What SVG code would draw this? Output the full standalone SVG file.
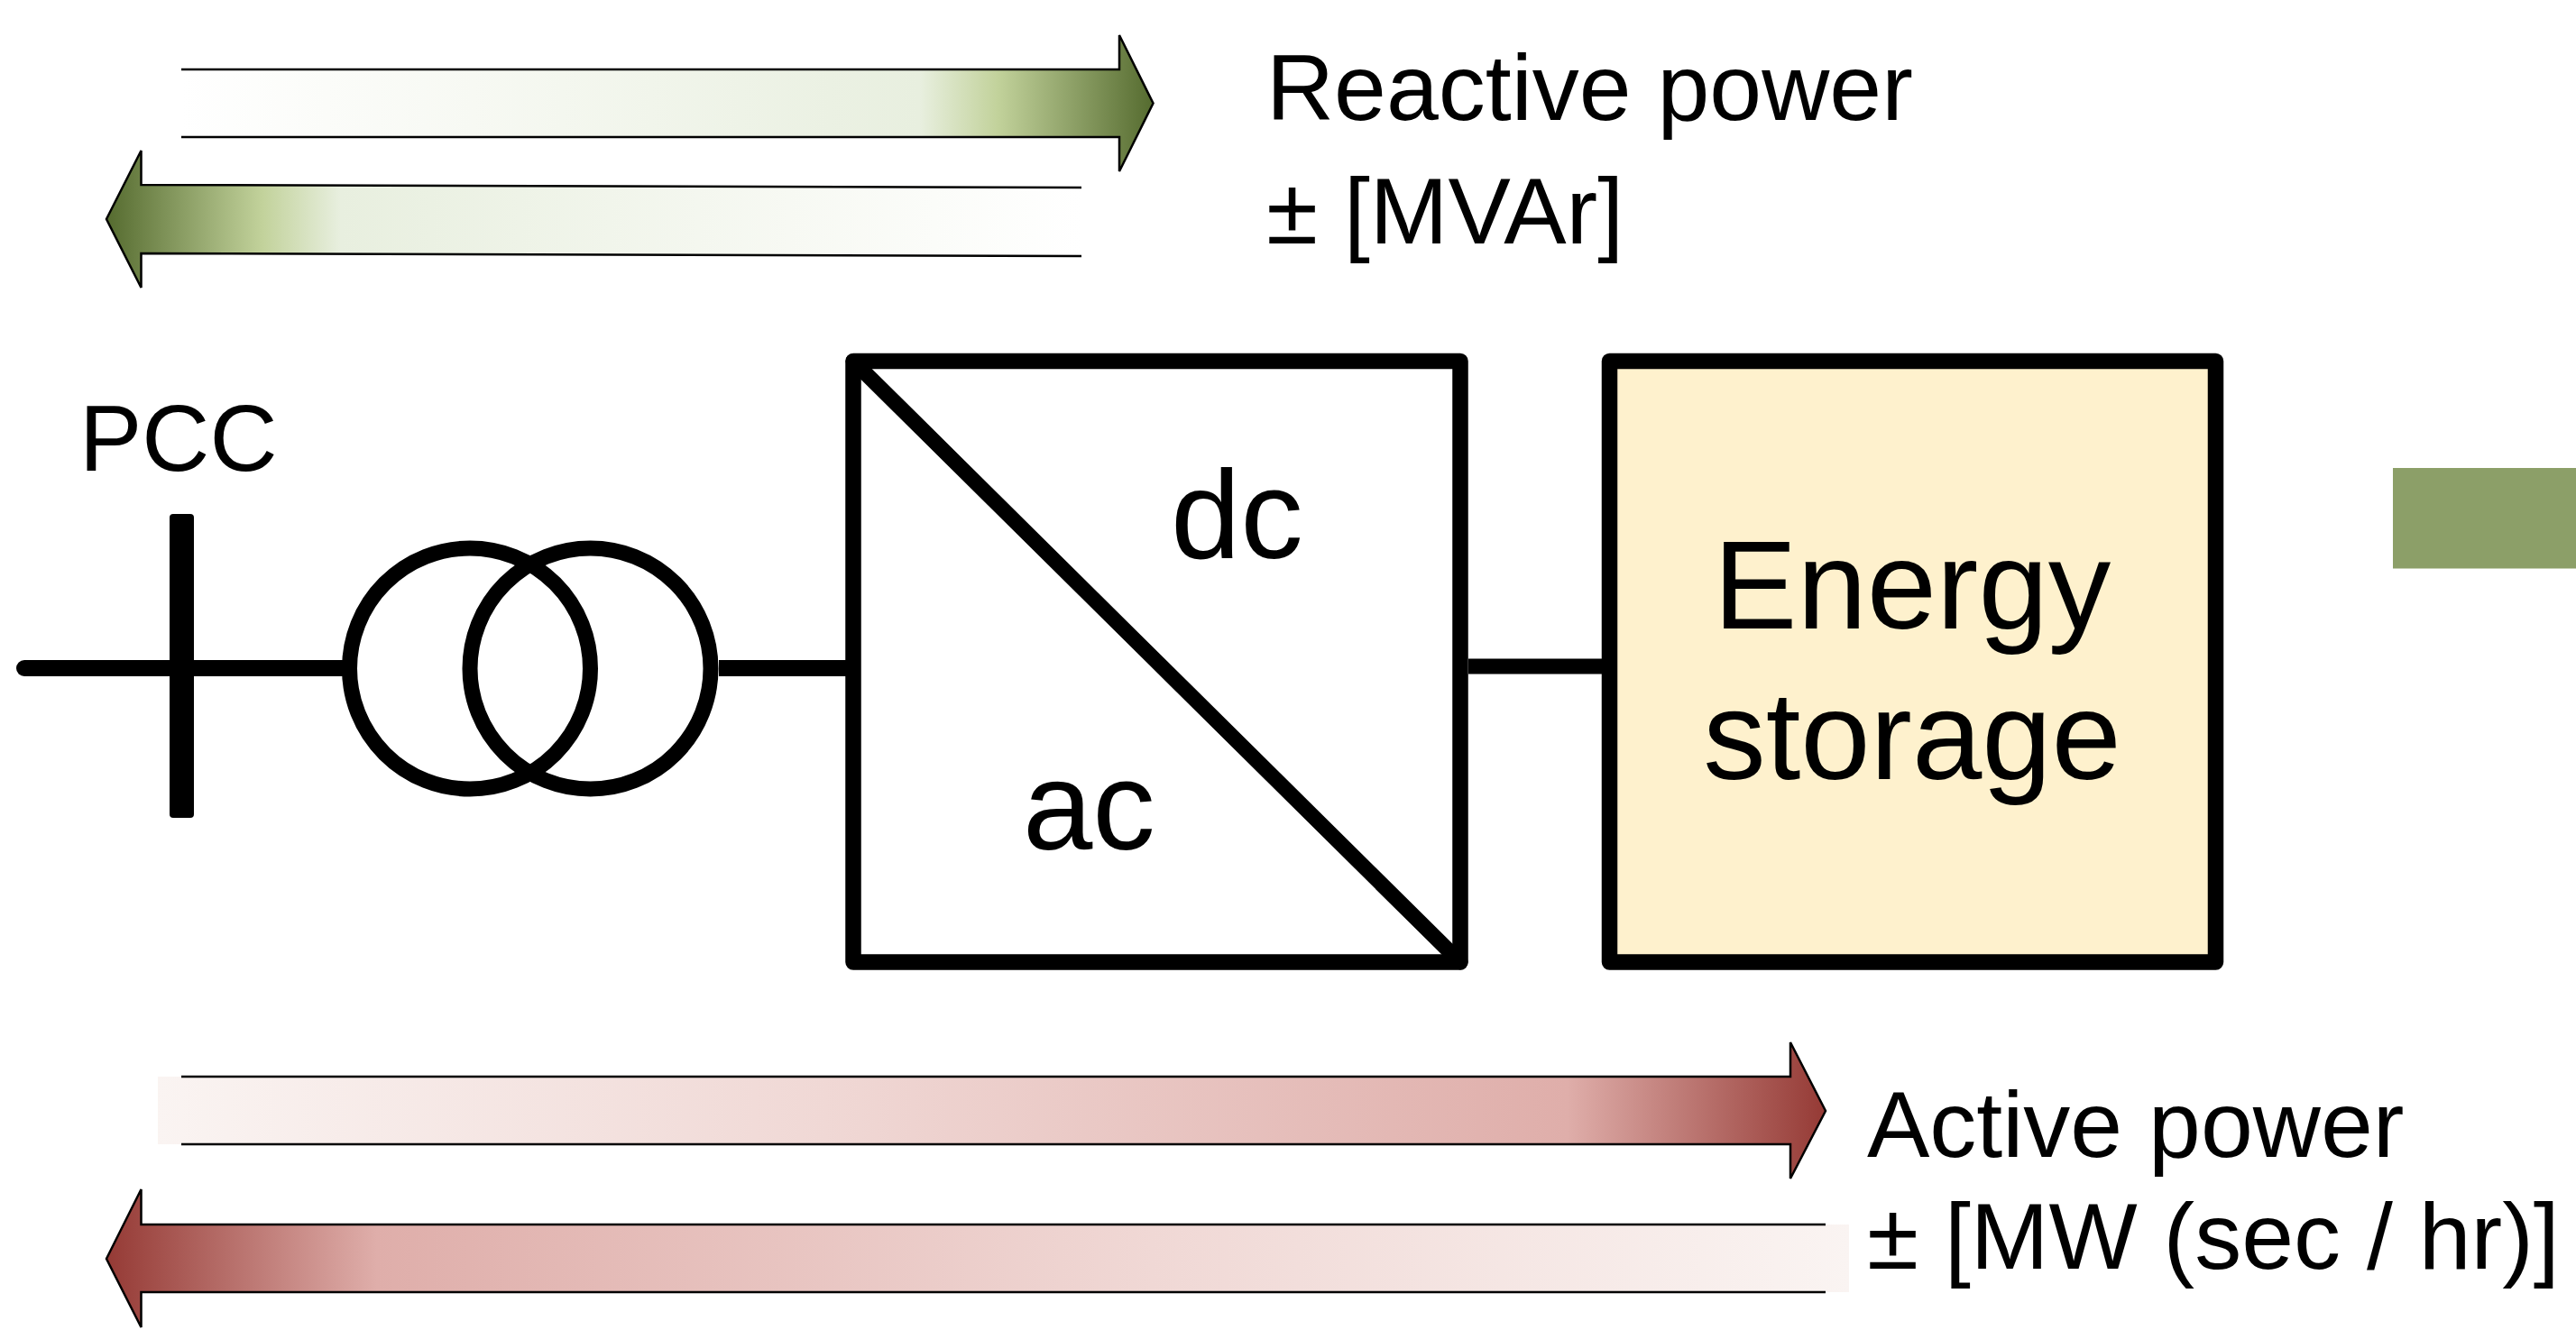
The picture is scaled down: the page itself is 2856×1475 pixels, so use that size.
<svg xmlns="http://www.w3.org/2000/svg" width="2856" height="1475" viewBox="0 0 2856 1475">
<style>
text{font-family:"Liberation Sans",Arial,sans-serif;fill:#000}
.s{font-size:104px}
.l{font-size:139px}
.w{stroke:#000;stroke-linecap:round;stroke-linejoin:round;fill:none}
.o{stroke:#000;stroke-width:2.5;fill:none;stroke-linejoin:miter}
</style>
<defs>
<linearGradient id="gr" x1="0" x2="1" y1="0" y2="0">
<stop offset="0" stop-color="#fff"/><stop offset="0.3" stop-color="#f7f9f3"/><stop offset="0.76" stop-color="#e8efdf"/><stop offset="0.84" stop-color="#c2d29b"/><stop offset="1" stop-color="#556b2f"/>
</linearGradient>
<linearGradient id="gl" x1="1" x2="0" y1="0" y2="0">
<stop offset="0" stop-color="#fff"/><stop offset="0.3" stop-color="#f7f9f3"/><stop offset="0.76" stop-color="#e8efdf"/><stop offset="0.84" stop-color="#c2d29b"/><stop offset="1" stop-color="#556b2f"/>
</linearGradient>
<linearGradient id="rr" x1="0" x2="1" y1="0" y2="0">
<stop offset="0" stop-color="#faf4f2"/><stop offset="0.4" stop-color="#f0d8d5"/><stop offset="0.845" stop-color="#dfaeaa"/><stop offset="1" stop-color="#953a35"/>
</linearGradient>
<linearGradient id="rl" x1="1" x2="0" y1="0" y2="0">
<stop offset="0" stop-color="#faf4f2"/><stop offset="0.4" stop-color="#f0d8d5"/><stop offset="0.845" stop-color="#dfaeaa"/><stop offset="1" stop-color="#953a35"/>
</linearGradient>
</defs>
<rect width="2856" height="1475" fill="#fff"/>
<rect id="green-block" x="2653" y="519" width="203" height="111.500" fill="#8c9f68"/>
<g id="connectors">
<path class="w" stroke-width="18" d="M27 741H380"/>
<path class="w" stroke-width="18" stroke-linecap="butt" d="M797 741H938" style="stroke-linecap:butt"/>
<path class="w" stroke-width="17" d="M1628 739H1776" style="stroke-linecap:butt"/>
</g>
<g id="reactive-out">
<path fill="url(#gr)" d="M201 77H1241V39L1278.500 114.500L1241 190V152H201Z"/>
<path class="o" d="M201 77H1241V39L1278.500 114.500L1241 190V152H201"/>
</g>
<g id="reactive-in">
<path fill="url(#gl)" d="M1199 208L156.500 205V167L118 243L156.500 319V281L1199 284Z"/>
<path class="o" d="M1199 208L156.500 205V167L118 243L156.500 319V281L1199 284"/>
</g>
<g id="active-out">
<path fill="url(#rr)" d="M175 1194H1985V1156L2024 1232L1985 1307V1269H175Z"/>
<path class="o" d="M201 1194H1985V1156L2024 1232L1985 1307V1269H201"/>
</g>
<g id="active-in">
<path fill="url(#rl)" d="M2050 1358H156.500V1319L118 1396L156.500 1472V1433H2050Z"/>
<path class="o" d="M2024 1358H156.500V1319L118 1396L156.500 1472V1433H2024"/>
</g>
<g id="pcc">
<rect x="188" y="570" width="27" height="337" rx="4" fill="#000"/>
<text class="s" x="88" y="522">PCC</text>
</g>
<g id="transformer">
<circle class="w" cx="521" cy="741.500" r="133.500" stroke-width="17"/>
<circle class="w" cx="654.500" cy="741.500" r="133.500" stroke-width="17"/>
</g>
<g id="converter">
<rect class="w" x="946" y="400.500" width="673" height="666.500" stroke-width="17.500" fill="#fff" style="fill:#fff"/>
<path class="w" stroke-width="17" d="M946 400.500L1619 1067"/>
<text class="l" x="1298" y="619">dc</text>
<text class="l" x="1134" y="942">ac</text>
</g>
<g id="energy-storage">
<rect class="w" x="1784.500" y="400.500" width="672" height="666.500" stroke-width="17.500" style="fill:#fef1cd"/>
<text class="l" x="2120" y="697" text-anchor="middle">Energy</text>
<text class="l" x="2120" y="864" text-anchor="middle">storage</text>
</g>
<g id="labels">
<text class="s" x="1404" y="133">Reactive power</text>
<text class="s" x="1404" y="270">± [MVAr]</text>
<text class="s" x="2070" y="1283">Active power</text>
<text class="s" x="2070" y="1407">± [MW (sec / hr)]</text>
</g>
</svg>
